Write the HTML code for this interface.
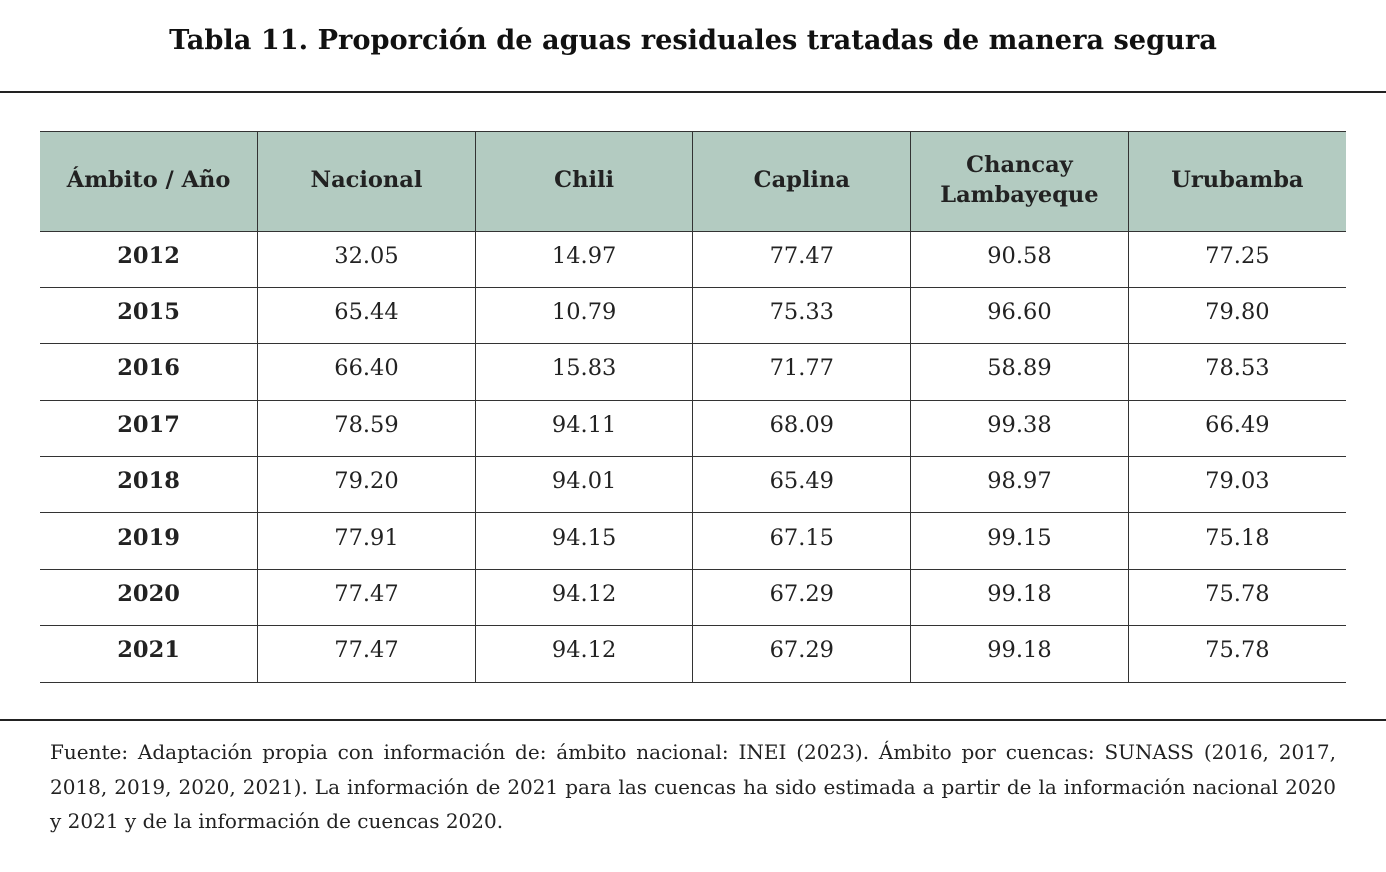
<!DOCTYPE html>
<html><head><meta charset="utf-8"><style>
body{margin:0;width:1386px;height:872px;background:#fff;position:relative;font-family:"DejaVu Serif","Liberation Serif",serif;color:#222;overflow:hidden}
.title{position:absolute;left:0;width:1386px;top:24px;text-align:center;font-weight:bold;font-size:27.2px;color:#111}
.hr{position:absolute;left:0;width:1386px;height:1.5px;background:#222}
table{position:absolute;left:40px;top:131px;width:1306px;border-collapse:collapse;table-layout:fixed}
td,th{border:1px solid #333;text-align:center;padding:0}
tr>*:first-child{border-left:none}tr>*:last-child{border-right:none}
th{background:#b3cbc1;height:99.5px;font-size:22.5px;line-height:30px;color:#222;padding-bottom:2px;box-sizing:border-box}
td{height:56.4px;font-size:22.5px;padding-bottom:7px;box-sizing:border-box}
td:first-child{font-weight:bold}
.foot{position:absolute;left:50px;width:1286px;top:735px;font-size:20px;line-height:34.5px;color:#222}
.j{text-align:justify;text-align-last:justify;white-space:nowrap}
</style></head><body>
<div class="title">Tabla 11. Proporción de aguas residuales tratadas de manera segura</div>
<div class="hr" style="top:91px"></div>
<table>
<tr><th>Ámbito / Año</th><th>Nacional</th><th>Chili</th><th>Caplina</th><th>Chancay<br>Lambayeque</th><th>Urubamba</th></tr>
<tr><td>2012</td><td>32.05</td><td>14.97</td><td>77.47</td><td>90.58</td><td>77.25</td></tr>
<tr><td>2015</td><td>65.44</td><td>10.79</td><td>75.33</td><td>96.60</td><td>79.80</td></tr>
<tr><td>2016</td><td>66.40</td><td>15.83</td><td>71.77</td><td>58.89</td><td>78.53</td></tr>
<tr><td>2017</td><td>78.59</td><td>94.11</td><td>68.09</td><td>99.38</td><td>66.49</td></tr>
<tr><td>2018</td><td>79.20</td><td>94.01</td><td>65.49</td><td>98.97</td><td>79.03</td></tr>
<tr><td>2019</td><td>77.91</td><td>94.15</td><td>67.15</td><td>99.15</td><td>75.18</td></tr>
<tr><td>2020</td><td>77.47</td><td>94.12</td><td>67.29</td><td>99.18</td><td>75.78</td></tr>
<tr><td>2021</td><td>77.47</td><td>94.12</td><td>67.29</td><td>99.18</td><td>75.78</td></tr>
</table>
<div class="hr" style="top:719px"></div>
<div class="foot">
<div class="j">Fuente: Adaptación propia con información de: ámbito nacional: INEI (2023). Ámbito por cuencas: SUNASS (2016, 2017,</div>
<div class="j">2018, 2019, 2020, 2021). La información de 2021 para las cuencas ha sido estimada a partir de la información nacional 2020</div>
<div>y 2021 y de la información de cuencas 2020.</div>
</div>
</body></html>
